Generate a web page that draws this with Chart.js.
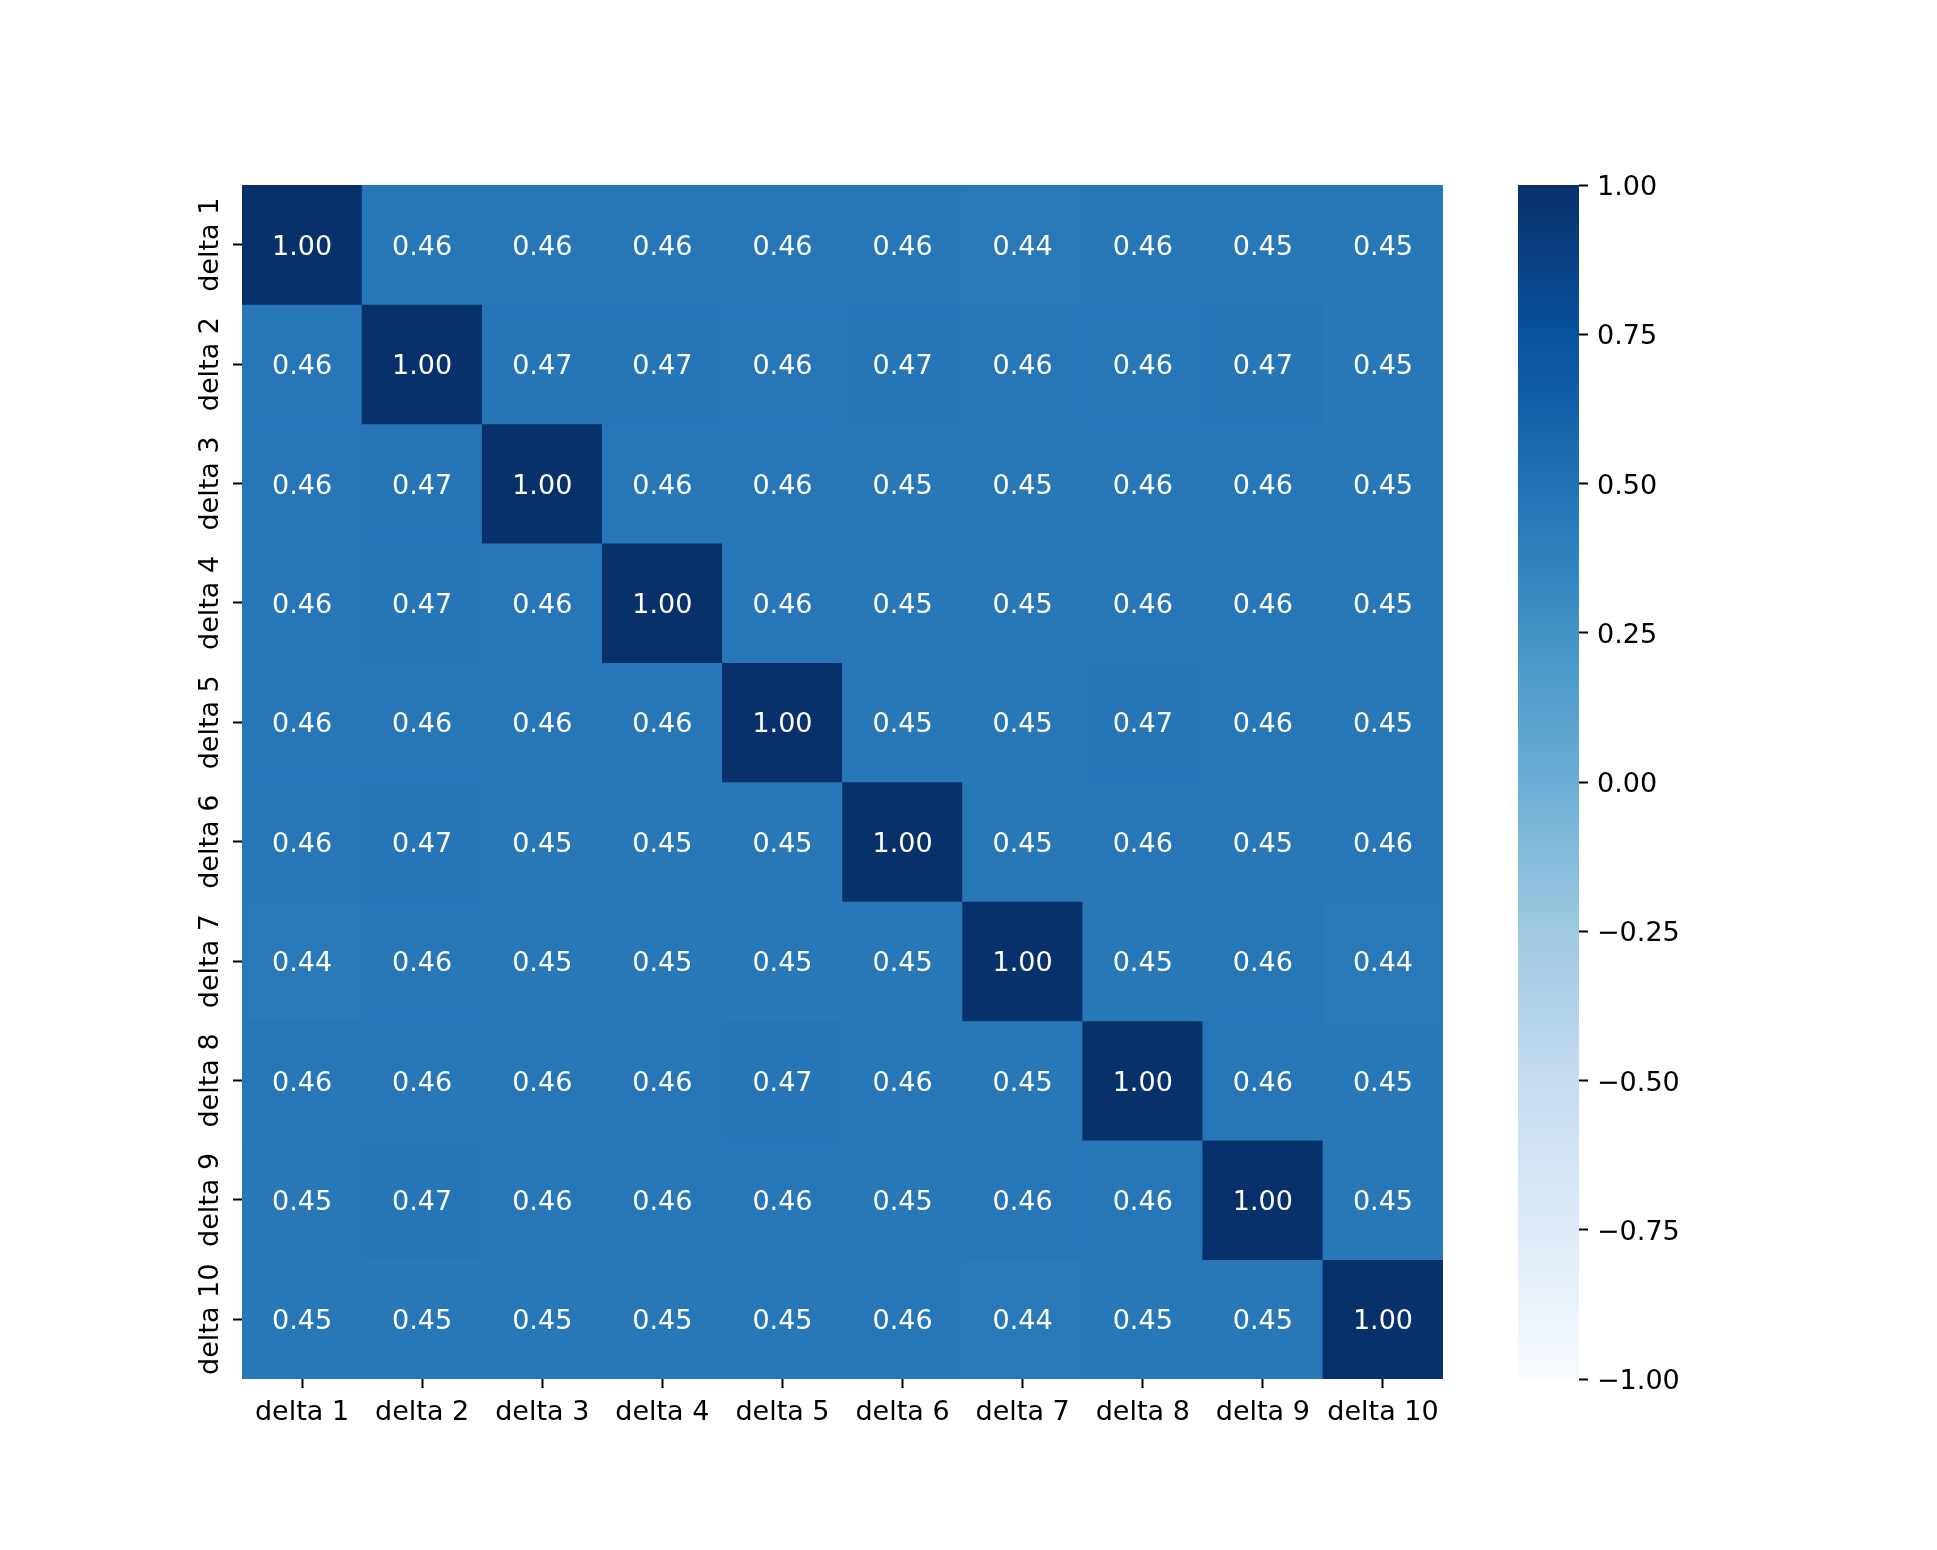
<!DOCTYPE html>
<html>
<head>
<meta charset="utf-8">
<script src="https://cdn.jsdelivr.net/npm/chart.js@4/dist/chart.umd.min.js"></script>
<style>
  html, body { margin: 0; padding: 0; background: #fff; }
  #wrap { position: relative; width: 1937px; height: 1550px; }
  canvas { position: absolute; top: 0; }
</style>
</head>
<body>
<div id="wrap">
  <canvas id="heat" width="1937" height="1550" style="left:0"></canvas>
  <canvas id="cbar" width="419" height="1550" style="left:1518px"></canvas>
</div>
<script>
const colLabels = ['delta 1', 'delta 2', 'delta 3', 'delta 4', 'delta 5', 'delta 6', 'delta 7', 'delta 8', 'delta 9', 'delta 10'];
const rowLabels = ['delta 1', 'delta 2', 'delta 3', 'delta 4', 'delta 5', 'delta 6', 'delta 7', 'delta 8', 'delta 9', 'delta 10'];

// correlation matrix, one array per row (top to bottom)
const row1 = [1.00, 0.46, 0.46, 0.46, 0.46, 0.46, 0.44, 0.46, 0.45, 0.45];
const row2 = [0.46, 1.00, 0.47, 0.47, 0.46, 0.47, 0.46, 0.46, 0.47, 0.45];
const row3 = [0.46, 0.47, 1.00, 0.46, 0.46, 0.45, 0.45, 0.46, 0.46, 0.45];
const row4 = [0.46, 0.47, 0.46, 1.00, 0.46, 0.45, 0.45, 0.46, 0.46, 0.45];
const row5 = [0.46, 0.46, 0.46, 0.46, 1.00, 0.45, 0.45, 0.47, 0.46, 0.45];
const row6 = [0.46, 0.47, 0.45, 0.45, 0.45, 1.00, 0.45, 0.46, 0.45, 0.46];
const row7 = [0.44, 0.46, 0.45, 0.45, 0.45, 0.45, 1.00, 0.45, 0.46, 0.44];
const row8 = [0.46, 0.46, 0.46, 0.46, 0.47, 0.46, 0.45, 1.00, 0.46, 0.45];
const row9 = [0.45, 0.47, 0.46, 0.46, 0.46, 0.45, 0.46, 0.46, 1.00, 0.45];
const row10 = [0.45, 0.45, 0.45, 0.45, 0.45, 0.46, 0.44, 0.45, 0.45, 1.00];
const rows = [row1, row2, row3, row4, row5, row6, row7, row8, row9, row10];

const vmin = -1, vmax = 1;
const cbarTicks = [-1, -0.75, -0.5, -0.25, 0, 0.25, 0.5, 0.75, 1];
const bluesStops = ['#f7fbff', '#deebf7', '#c6dbef', '#9ecae1', '#6baed6', '#4292c6', '#2171b5', '#08519c', '#08306b'];

const FONT = "'DejaVu Sans', sans-serif";
const FSIZE = 27;

function hexToRgb(h) {
    return [parseInt(h.substr(1, 2), 16), parseInt(h.substr(3, 2), 16), parseInt(h.substr(5, 2), 16)];
}

function blues(v) {
    let t = (v - vmin) / (vmax - vmin);
    t = Math.max(0, Math.min(1, t));
    const pos = t * (bluesStops.length - 1);
    const i = Math.min(Math.floor(pos), bluesStops.length - 2);
    const f = pos - i;
    const a = hexToRgb(bluesStops[i]);
    const b = hexToRgb(bluesStops[i + 1]);
    const c = a.map((x, k) => Math.round(x + (b[k] - x) * f));
    return 'rgb(' + c.join(',') + ')';
}

function fmtMinus(v) {
    return v.toFixed(2).replace('-', '\u2212');
}

// each row is a stacked dataset of height 1
const heatSets = rows.map((r, i) => ({
    label: rowLabels[i],
    data: r.map(() => 1),
    values: r,
    backgroundColor: r.map(v => blues(v)),
    borderWidth: 0,
    barPercentage: 1,
    categoryPercentage: 1
}));

const annotate = {
    id: 'annotate',
    afterDatasetsDraw(chart) {
        const ctx = chart.ctx;
        ctx.save();
        ctx.font = FSIZE + 'px ' + FONT;
        ctx.fillStyle = '#ffffff';
        ctx.textAlign = 'center';
        ctx.textBaseline = 'alphabetic';
        chart.data.datasets.forEach((ds, i) => {
            const meta = chart.getDatasetMeta(i);
            meta.data.forEach((bar, j) => {
                const yc = (bar.y + bar.base) / 2;
                ctx.fillText(ds.values[j].toFixed(2), bar.x, yc + 10);
            });
        });
        ctx.restore();
    }
};

// rotated row labels, like matplotlib
const rowLabelPlugin = {
    id: 'rowLabels',
    afterDraw(chart) {
        const ctx = chart.ctx;
        const y = chart.scales.y;
        ctx.save();
        ctx.font = FSIZE + 'px ' + FONT;
        ctx.fillStyle = '#000';
        ctx.textAlign = 'center';
        ctx.textBaseline = 'bottom';
        rowLabels.forEach((l, i) => {
            const py = y.getPixelForValue(i + 0.5);
            ctx.save();
            ctx.translate(chart.chartArea.left - 18, py);
            ctx.rotate(-Math.PI / 2);
            ctx.fillText(l, 0, 0);
            ctx.restore();
        });
        ctx.restore();
    }
};

new Chart(document.getElementById('heat'), {
    type: 'bar',
    data: { labels: colLabels, datasets: heatSets },
    options: {
        responsive: false,
        animation: false,
        layout: { padding: { top: 185, right: 494, bottom: 0, left: 0 } },
        plugins: { legend: { display: false }, tooltip: { enabled: false } },
        scales: {
            x: {
                stacked: true,
                border: { display: false },
                grid: { drawOnChartArea: false, offset: false, tickLength: 9, tickColor: '#000', tickWidth: 2 },
                ticks: { color: '#000', font: { family: FONT, size: FSIZE }, padding: 9, maxRotation: 0, minRotation: 0, autoSkip: false },
                afterFit: s => { s.height = 171; }
            },
            y: {
                stacked: true,
                reverse: true,
                min: 0,
                max: 10,
                border: { display: false },
                grid: { drawOnChartArea: false, tickLength: 9, tickColor: '#000', tickWidth: 2 },
                afterBuildTicks: s => { s.ticks = rowLabels.map((l, i) => ({ value: i + 0.5 })); },
                ticks: { display: false },
                afterFit: s => { s.width = 242; }
            }
        }
    },
    plugins: [annotate, rowLabelPlugin]
});

const cbarLabelPlugin = {
    id: 'cbarLabels',
    afterDraw(chart) {
        const ctx = chart.ctx;
        const y = chart.scales.y;
        ctx.save();
        ctx.font = FSIZE + 'px ' + FONT;
        ctx.fillStyle = '#000';
        ctx.textAlign = 'left';
        ctx.textBaseline = 'alphabetic';
        cbarTicks.forEach(v => {
            ctx.fillText(fmtMinus(v), chart.chartArea.right + 18, y.getPixelForValue(v) + 10);
        });
        ctx.restore();
    }
};

// colorbar
new Chart(document.getElementById('cbar'), {
    type: 'bar',
    data: {
        labels: [''],
        datasets: [{
            data: [[vmin, vmax]],
            borderWidth: 0,
            barPercentage: 1,
            categoryPercentage: 1,
            backgroundColor: context => {
                const area = context.chart.chartArea;
                if (!area) return bluesStops[4];
                const g = context.chart.ctx.createLinearGradient(0, area.bottom, 0, area.top);
                bluesStops.forEach((c, i) => g.addColorStop(i / (bluesStops.length - 1), c));
                return g;
            }
        }]
    },
    options: {
        responsive: false,
        animation: false,
        layout: { padding: { top: 185, right: 0, bottom: 171, left: 0 } },
        plugins: { legend: { display: false }, tooltip: { enabled: false } },
        scales: {
            x: { display: false },
            y: {
                position: 'right',
                min: vmin,
                max: vmax,
                border: { display: false },
                grid: { drawOnChartArea: false, tickLength: 9, tickColor: '#000', tickWidth: 2 },
                afterBuildTicks: s => { s.ticks = cbarTicks.map(v => ({ value: v })); },
                ticks: { display: false },
                afterFit: s => { s.width = 358; }
            }
        }
    },
    plugins: [cbarLabelPlugin]
});
</script>
</body>
</html>
